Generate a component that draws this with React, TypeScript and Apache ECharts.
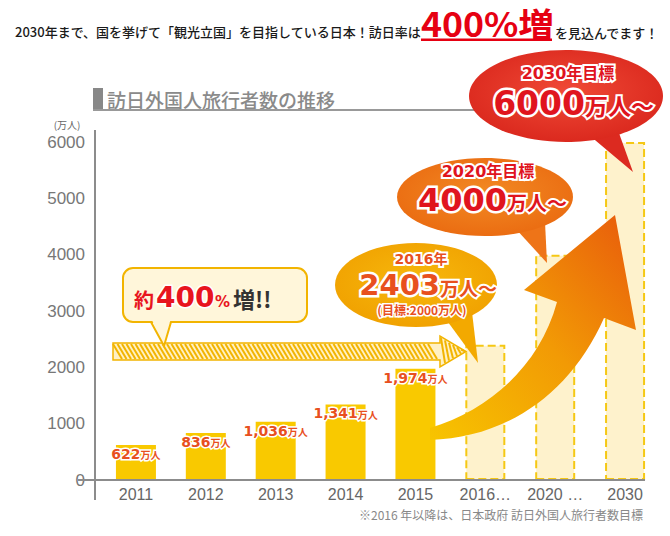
import React, { useEffect, useRef } from "react";
import * as echarts from "echarts";

const categories = ["2011", "2012", "2013", "2014", "2015", "2016…", "2020 …", "2030"];
const visitors = [622, 836, 1036, 1341, 1974, 2403, 4000, 6000];
const actualCount = 5;
const yMin = 0;
const yMax = 6000;
const yInterval = 1000;

const titleMain = "2030年まで、国を挙げて「観光立国」を目指している日本！訪日率は";
const titleEmph = "400%増";
const titleTail = "を見込んでます！";
const sectionTitle = "訪日外国人旅行者数の推移";
const unitLabel = "(万人)";
const footnote = "※2016 年以降は、日本政府 訪日外国人旅行者数目標";

const JP = '"Noto Sans CJK JP", sans-serif';
const NUM = '"DejaVu Sans", "Noto Sans CJK JP", sans-serif';

const ARROW_D =
  "M 430 440 C 505 438, 570 395, 604 318 L 636 330 L 615 215 L 524 290 L 557 302 C 540 365, 490 410, 430 428 Z";

let registered = false;
function ensureShapes() {
  if (registered) return;
  echarts.graphic.registerShape("bigArrow", echarts.graphic.extendPath(ARROW_D, {}) as any);
  registered = true;
}

function txt(x: number, y: number, text: string, o: any) {
  const align = o.align || "left";
  const va = o.va || "middle";
  return {
    type: "text",
    x,
    y,
    z: o.z ?? 30,
    scaleX: o.scaleX ?? 1,
    style: {
      text,
      x: 0,
      y: 0,
      fill: o.fill || "#333",
      fontSize: o.size || 12,
      fontFamily: o.family || JP,
      fontWeight: o.weight || "normal",
      align,
      textAlign: align,
      verticalAlign: va,
      textVerticalAlign: va,
      stroke: o.stroke,
      lineWidth: o.lw || 0,
    },
  };
}

function fmt(v: number) {
  return v.toLocaleString("en-US");
}

function buildGraphic() {
  const g: any[] = [];
  // title
  g.push(txt(15, 31, titleMain, { size: 13, fill: "#1a1a1a", weight: 500 }));
  g.push(
    txt(421, 23, titleEmph, { size: 33, fill: "#E60012", weight: "bold", scaleX: 1.08 })
  );
  g.push({ type: "rect", z: 30, shape: { x: 421, y: 38.5, width: 131, height: 2.5 }, style: { fill: "#E60012" } });
  g.push(txt(555, 32, titleTail, { size: 13, fill: "#1a1a1a", weight: 500 }));

  // section header
  g.push({ type: "rect", z: 5, shape: { x: 93, y: 88, width: 10, height: 22 }, style: { fill: "#888" } });
  g.push(txt(107, 99.5, sectionTitle, { size: 19, fill: "#8a8a8a", weight: 500, z: 5 }));
  g.push({ type: "line", z: 5, shape: { x1: 93, y1: 110, x2: 580, y2: 110 }, style: { stroke: "#999", lineWidth: 2 } });

  // axes lines
  g.push({ type: "line", z: 6, shape: { x1: 95, y1: 130, x2: 95, y2: 500 }, style: { stroke: "#8c8c8c", lineWidth: 2 } });
  g.push({ type: "line", z: 6, shape: { x1: 78, y1: 480, x2: 645, y2: 480 }, style: { stroke: "#8c8c8c", lineWidth: 2 } });
  g.push(txt(67, 124, unitLabel, { size: 10, fill: "#666", align: "center" }));

  // footnote
  g.push(txt(643, 514, footnote, { size: 12, fill: "#888", align: "right" }));

  // hatched arrow
  const bandTop = 343;
  const bandBot = 360;
  g.push({
    type: "polygon",
    z: 8,
    shape: { points: [[113, bandTop], [440, bandTop], [440, 336], [466, 351.5], [440, 367], [440, bandBot], [113, bandBot]] },
    style: { fill: "#FFF1C4", stroke: "#F2B400", lineWidth: 1.5 },
  });
  for (let x0 = 113; x0 + 9 <= 440; x0 += 4.5) {
    g.push({
      type: "line",
      z: 9,
      shape: { x1: x0, y1: bandTop + 1, x2: x0 + 9, y2: bandBot - 1 },
      style: { stroke: "#F2B400", lineWidth: 2 },
    });
  }
  for (let k = 0; k < 6; k++) {
    const x0 = 441 + k * 4;
    const half = 15 * (1 - (x0 - 440) / 26);
    g.push({
      type: "line",
      z: 9,
      shape: { x1: x0, y1: 351.5 - half + 1, x2: x0 + 4, y2: 351.5 + half - 3 },
      style: { stroke: "#F2B400", lineWidth: 2 },
    });
  }

  // callout 約400%増!!
  g.push({
    type: "rect",
    z: 10,
    shape: { x: 123, y: 268, width: 184, height: 54, r: 10 },
    style: { fill: "#FFF6DA", stroke: "#F2B400", lineWidth: 2 },
  });
  g.push({ type: "polygon", z: 11, shape: { points: [[151, 318], [171, 318], [164, 346]] }, style: { fill: "#FFF6DA" } });
  g.push({ type: "polyline", z: 11, shape: { points: [[151, 322], [164, 346], [171, 322]] }, style: { stroke: "#F2B400", lineWidth: 2, fill: null } });
  g.push(txt(134, 299, "約", { size: 20, fill: "#E8141E", weight: "bold", z: 12 }));
  g.push(txt(156, 297, "400", { size: 28, fill: "#E8141E", weight: "bold", family: NUM, stroke: "#fff", lw: 3, z: 12 }));
  g.push(txt(215, 302, "%", { size: 15, fill: "#E8141E", weight: "bold", family: NUM, z: 12 }));
  g.push(txt(233, 298, "増!!", { size: 22, fill: "#333", weight: "bold", z: 12 }));

  // big arrow
  g.push({
    type: "bigArrow",
    x: 0,
    y: 0,
    z: 15,
    style: {
      fill: new echarts.graphic.LinearGradient(0, 1, 1, 0, [
        { offset: 0, color: "#F7C400" },
        { offset: 0.5, color: "#F29A05" },
        { offset: 1, color: "#E85A0C" },
      ]),
    },
  });

  // yellow bubble (2016)
  g.push({ type: "polygon", z: 20, shape: { points: [[445, 318], [472, 312], [478, 363]] }, style: { fill: "#F3A900" } });
  g.push({
    type: "ellipse",
    z: 20,
    shape: { cx: 416, cy: 285, rx: 81, ry: 42 },
    style: {
      fill: new echarts.graphic.RadialGradient(0.5, 0.45, 0.6, [
        { offset: 0, color: "#F7B80C" },
        { offset: 1, color: "#F0A000" },
      ]),
    },
  });
  g.push(txt(421, 259, "2016年", { size: 14, fill: "#E8501E", weight: "bold", family: NUM, stroke: "#fff", lw: 4, align: "center", z: 22 }));
  g.push(txt(440, 285, "2403", { size: 29, fill: "#E8501E", weight: "bold", family: NUM, stroke: "#fff", lw: 5, align: "right", z: 22 }));
  g.push(txt(440, 287, "万人〜", { size: 19, fill: "#E8501E", weight: "bold", stroke: "#fff", lw: 4, z: 22 }));
  g.push(txt(422, 309, "(目標:2000万人)", { size: 12, fill: "#E8501E", weight: "bold", stroke: "#fff", lw: 3, align: "center", z: 22 }));

  // orange bubble (2020)
  g.push({ type: "polygon", z: 20, shape: { points: [[515, 228], [545, 222], [547, 263]] }, style: { fill: "#EE7418" } });
  g.push({
    type: "ellipse",
    z: 20,
    shape: { cx: 485, cy: 197, rx: 88, ry: 39 },
    style: {
      fill: new echarts.graphic.RadialGradient(0.5, 0.45, 0.6, [
        { offset: 0, color: "#F28A24" },
        { offset: 1, color: "#EA6A10" },
      ]),
    },
  });
  g.push(txt(488, 171, "2020年目標", { size: 16, fill: "#E0141E", weight: "bold", family: NUM, stroke: "#fff", lw: 4, align: "center", z: 22 }));
  g.push(txt(507, 200, "4000", { size: 32, fill: "#E0141E", weight: "bold", family: NUM, stroke: "#fff", lw: 5, align: "right", z: 22 }));
  g.push(txt(507, 202, "万人〜", { size: 20, fill: "#E0141E", weight: "bold", stroke: "#fff", lw: 4, z: 22 }));

  // red bubble (2030)
  g.push({ type: "polygon", z: 20, shape: { points: [[583, 130], [615, 122], [633, 172]] }, style: { fill: "#DC2A20" } });
  g.push({
    type: "ellipse",
    z: 20,
    shape: { cx: 566, cy: 96, rx: 97, ry: 46 },
    style: {
      fill: new echarts.graphic.RadialGradient(0.5, 0.45, 0.6, [
        { offset: 0, color: "#F04A36" },
        { offset: 1, color: "#D9261C" },
      ]),
    },
  });
  g.push(txt(568, 73, "2030年目標", { size: 16, fill: "#E0141E", weight: "bold", family: NUM, stroke: "#fff", lw: 4, align: "center", z: 22 }));
  g.push(txt(585, 103, "6000", { size: 33, fill: "#E0141E", weight: "bold", family: NUM, stroke: "#fff", lw: 5, align: "right", z: 22 }));
  g.push(txt(585, 105, "万人〜", { size: 23, fill: "#E0141E", weight: "bold", stroke: "#fff", lw: 4, z: 22 }));

  return g;
}

export default function App() {
  const ref = useRef<HTMLDivElement>(null);
  useEffect(() => {
    if (!ref.current) return;
    ensureShapes();
    const chart = echarts.init(ref.current, undefined, { renderer: "svg" });
    const data = visitors.map((v, i) => {
      const actual = i < actualCount;
      return {
        value: v,
        itemStyle: actual
          ? { color: "#F9C900" }
          : { color: "#FEF2CC", borderColor: "#F5C814", borderWidth: 2, borderType: "dashed" },
        label: { show: actual },
      };
    });
    chart.setOption({
      animation: false,
      backgroundColor: "#ffffff",
      grid: { left: 101, right: 10, top: 142, bottom: 56, containLabel: false },
      xAxis: {
        type: "category",
        data: categories,
        axisLine: { show: false },
        axisTick: { show: false },
        axisLabel: { interval: 0, color: "#666", fontSize: 16, margin: 6, fontFamily: '"Liberation Sans", Arial, sans-serif' },
      },
      yAxis: {
        type: "value",
        min: yMin,
        max: yMax,
        interval: yInterval,
        axisLine: { show: false },
        axisTick: { show: false },
        splitLine: { show: false },
        axisLabel: {
          color: "#777",
          fontSize: 17,
          margin: 16,
          fontFamily: '"Liberation Sans", Arial, sans-serif',
          formatter: (v: number) => String(v),
        },
      },
      series: [
        {
          type: "bar",
          data,
          barWidth: 40,
          z: 2,
          label: {
            position: "insideTop",
            distance: 2,
            formatter: (p: any) => `{n|${fmt(p.value)}}{u|万人}`,
            rich: {
              n: { fontSize: 14, fontWeight: "bold", fontFamily: NUM, color: "#E8501E", textBorderColor: "#fff", textBorderWidth: 3 },
              u: { fontSize: 10, fontWeight: "bold", fontFamily: JP, color: "#E8501E", textBorderColor: "#fff", textBorderWidth: 3, padding: [2, 0, 0, 0] },
            },
          },
        },
      ],
      graphic: { elements: buildGraphic() },
    });
    return () => chart.dispose();
  }, []);
  return <div ref={ref} style={{ width: 670, height: 536, position: "absolute", left: 0, top: 0 }} />;
}
